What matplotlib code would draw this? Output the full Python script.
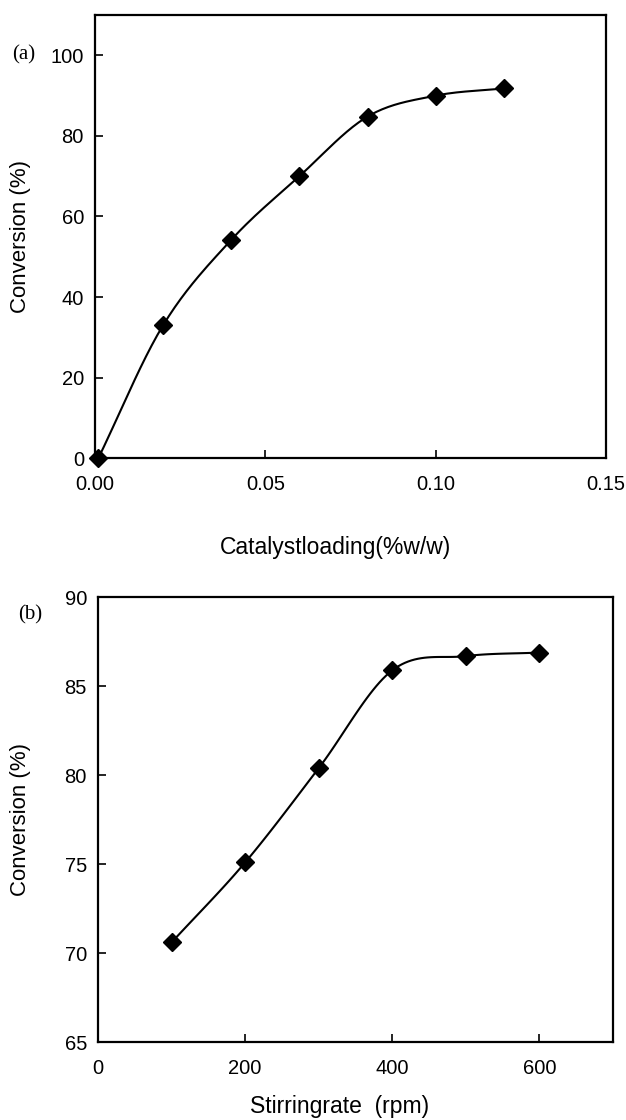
# two-panel conversion plot: (a) catalyst loading, (b) stirring rate
import numpy as np
import matplotlib.pyplot as plt

plt.rcParams['font.family'] = ['Liberation Sans', 'DejaVu Sans']

# panel (a)
load = [0.001, 0.02, 0.04, 0.06, 0.08, 0.10, 0.12]
conv_a = [0.0, 33.0, 54.2, 70.0, 84.8, 90.0, 91.8]

# panel (b)
rpm = [100, 200, 300, 400, 500, 600]
conv_b = [70.6, 75.1, 80.4, 85.9, 86.7, 86.9]


def smooth(x, y, n=24):
    """Catmull-Rom curve through the points (Excel-style smoothed line)."""
    x = np.asarray(x, float)
    y = np.asarray(y, float)
    px = np.concatenate([[2 * x[0] - x[1]], x, [2 * x[-1] - x[-2]]])
    py = np.concatenate([[2 * y[0] - y[1]], y, [2 * y[-1] - y[-2]]])
    xs, ys = [], []
    t = np.linspace(0, 1, n)
    for i in range(1, len(px) - 2):
        for p, out in ((px, xs), (py, ys)):
            p0, p1, p2, p3 = p[i - 1], p[i], p[i + 1], p[i + 2]
            out.extend(0.5 * (2 * p1 + (-p0 + p2) * t
                              + (2 * p0 - 5 * p1 + 4 * p2 - p3) * t ** 2
                              + (-p0 + 3 * p1 - 3 * p2 + p3) * t ** 3))
    return xs, ys


fig = plt.figure(figsize=(6.26, 11.2), dpi=100)
ax1 = fig.add_axes([95 / 626, 0.591, 511 / 626, 0.3955])
ax2 = fig.add_axes([98 / 626, 0.0696, 515 / 626, 0.397])

sx, sy = smooth(load, conv_a)
ax1.plot(sx, sy, color='black', lw=1.5)
ax1.plot(load, conv_a, 'D', color='black', ms=9.5, clip_on=False, zorder=5)
ax1.set_xlim(0, 0.15)
ax1.set_ylim(0, 110)
ax1.set_xticks([0, 0.05, 0.10, 0.15])
ax1.set_xticklabels(['0.00', '0.05', '0.10', '0.15'])
ax1.set_yticks([0, 20, 40, 60, 80, 100])
ax1.set_xlabel('Catalystloading(%w/w)', fontsize=16.5)
ax1.xaxis.set_label_coords(0.47, -0.175)

sx, sy = smooth(rpm, conv_b)
ax2.plot(sx, sy, color='black', lw=1.5)
ax2.plot(rpm, conv_b, 'D', color='black', ms=9.5, zorder=5)
ax2.set_xlim(0, 700)
ax2.set_ylim(65, 90)
ax2.set_xticks([0, 200, 400, 600])
ax2.set_yticks([65, 70, 75, 80, 85, 90])
ax2.set_xlabel('Stirringrate  (rpm)', fontsize=16.5)
ax2.xaxis.set_label_coords(0.47, -0.12)

for ax in (ax1, ax2):
    ax.set_ylabel('Conversion (%)', fontsize=16)
    ax.tick_params(direction='in', length=6, width=1.2, labelsize=14.5,
                   top=False, right=False)
    ax.tick_params(axis='x', pad=12)
    ax.tick_params(axis='y', pad=8)
    for s in ax.spines.values():
        s.set_linewidth(1.6)
ax1.yaxis.set_label_coords(-0.125, 0.5)
ax2.yaxis.set_label_coords(-0.13, 0.5)

fig.text(12 / 626, 1 - 55 / 1120, '(a)', family='Liberation Serif',
         fontsize=15, va='center', ha='left')
fig.text(18 / 626, 1 - 615 / 1120, '(b)', family='Liberation Serif',
         fontsize=15, va='center', ha='left')

fig.savefig('out.png', dpi=100)
